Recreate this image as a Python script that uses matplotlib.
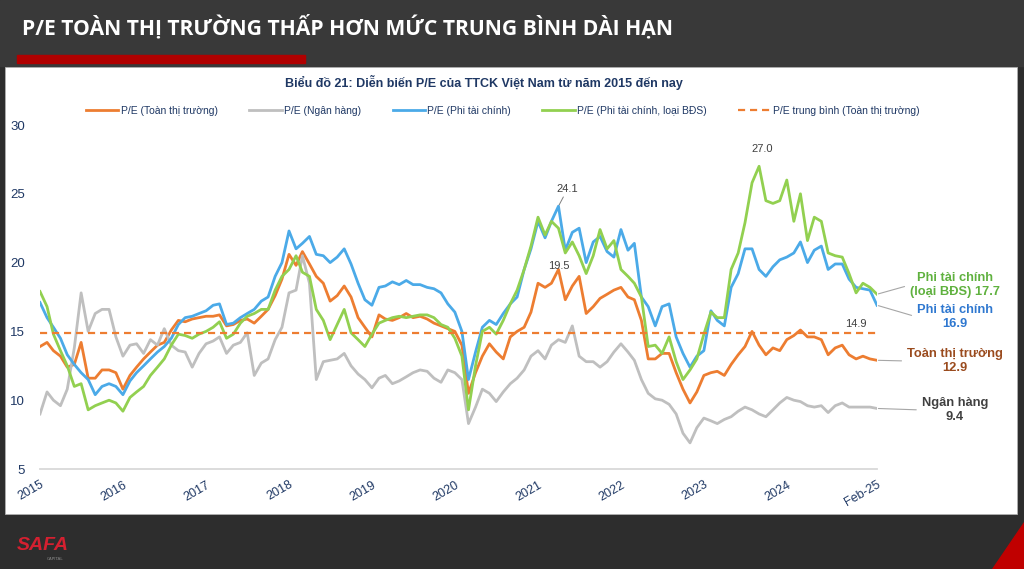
import numpy as np
import pandas as pd
import matplotlib
matplotlib.use('Agg')
import matplotlib.pyplot as plt
from matplotlib.patches import Rectangle, Polygon

W, H = 1024, 569

# monthly P/E readings, Jan 2015 .. Feb 2025
months = pd.date_range('2015-01-01', periods=122, freq='MS')

pe_market = [
    13.9, 14.2, 13.6, 13.2, 12.4, 12.6, 14.2, 11.6, 11.6, 12.2,
    12.2, 12.0, 10.8, 11.8, 12.4, 13.0, 13.5, 14.0, 14.2, 15.1,
    15.8, 15.7, 15.9, 16.0, 16.1, 16.1, 16.2, 15.4, 15.5, 15.8,
    15.9, 15.6, 16.1, 16.6, 17.6, 18.8, 20.6, 19.8, 20.8, 19.9,
    19.0, 18.5, 17.2, 17.6, 18.3, 17.5, 16.0, 15.3, 14.6, 16.2,
    15.9, 15.8, 16.0, 16.3, 16.0, 16.1, 15.9, 15.6, 15.4, 15.2,
    15.0, 14.0, 10.5, 12.0, 13.2, 14.1, 13.5, 13.0, 14.6, 15.0,
    15.3, 16.4, 18.5, 18.2, 18.5, 19.5, 17.3, 18.3, 19.0, 16.3,
    16.8, 17.4, 17.7, 18.0, 18.2, 17.5, 17.3, 15.8, 13.0, 13.0,
    13.4, 13.4, 12.0, 10.8, 9.8, 10.6, 11.8, 12.0, 12.1, 11.8,
    12.6, 13.3, 13.9, 15.0, 14.0, 13.3, 13.8, 13.6, 14.4, 14.7,
    15.1, 14.6, 14.6, 14.4, 13.3, 13.8, 14.0, 13.3, 13.0, 13.2,
    13.0, 12.9,
]

pe_bank = [
    9.0, 10.6, 10.0, 9.6, 10.8, 13.8, 17.8, 15.0, 16.3, 16.6,
    16.6, 14.6, 13.2, 14.0, 14.1, 13.4, 14.4, 14.0, 15.2, 14.0,
    13.6, 13.5, 12.4, 13.4, 14.1, 14.3, 14.6, 13.4, 14.0, 14.2,
    14.9, 11.8, 12.7, 13.0, 14.4, 15.3, 17.8, 18.0, 20.5, 18.5,
    11.5, 12.8, 12.9, 13.0, 13.4, 12.5, 11.9, 11.5, 10.9, 11.6,
    11.8, 11.2, 11.4, 11.7, 12.0, 12.2, 12.1, 11.6, 11.3, 12.2,
    12.0, 11.5, 8.3, 9.5, 10.8, 10.5, 9.9, 10.6, 11.2, 11.6,
    12.2, 13.2, 13.6, 13.0, 14.0, 14.4, 14.2, 15.4, 13.2, 12.8,
    12.8, 12.4, 12.8, 13.5, 14.1, 13.5, 12.9, 11.5, 10.5, 10.1,
    10.0, 9.7, 9.0, 7.6, 6.9, 8.0, 8.7, 8.5, 8.3, 8.6,
    8.8, 9.2, 9.5, 9.3, 9.0, 8.8, 9.3, 9.8, 10.2, 10.0,
    9.9, 9.6, 9.5, 9.6, 9.1, 9.6, 9.8, 9.5, 9.5, 9.5,
    9.5, 9.4,
]

pe_nonfin = [
    17.1, 16.0, 15.3, 14.5, 13.3, 12.6, 12.0, 11.5, 10.4, 11.0,
    11.2, 11.0, 10.4, 11.4, 12.0, 12.5, 13.0, 13.5, 13.9, 14.5,
    15.5, 16.0, 16.1, 16.3, 16.5, 16.9, 17.0, 15.5, 15.6, 16.0,
    16.3, 16.6, 17.2, 17.5, 19.0, 20.0, 22.3, 21.0, 21.4, 21.9,
    20.6, 20.5, 20.0, 20.4, 21.0, 19.9, 18.5, 17.3, 16.9, 18.2,
    18.3, 18.6, 18.4, 18.7, 18.4, 18.4, 18.2, 18.1, 17.8, 17.0,
    16.4, 15.0, 11.5, 13.5, 15.3, 15.8, 15.5, 16.3, 17.0, 17.5,
    19.5, 21.0, 23.0, 21.8, 23.0, 24.1, 20.9, 22.2, 22.5, 20.0,
    21.5, 21.9, 20.8, 20.4, 22.4, 20.9, 21.4, 17.5, 16.8, 15.4,
    16.8, 17.0, 14.6, 13.4, 12.4, 13.2, 13.6, 16.5, 15.8, 15.4,
    18.2, 19.2, 21.0, 21.0, 19.5, 19.0, 19.7, 20.2, 20.4, 20.7,
    21.5, 20.0, 20.9, 21.2, 19.5, 19.9, 19.9, 18.8, 18.2, 18.1,
    18.0, 16.9,
]

pe_nonfin_ex_re = [
    17.9, 16.8, 14.8, 13.6, 12.5, 11.0, 11.2, 9.3, 9.6, 9.8,
    10.0, 9.8, 9.2, 10.2, 10.6, 11.0, 11.8, 12.4, 13.0, 14.0,
    14.8, 14.7, 14.5, 14.8, 15.0, 15.3, 15.7, 14.5, 14.8, 15.6,
    16.1, 16.3, 16.6, 16.6, 18.0, 19.0, 19.5, 20.5, 19.3, 19.0,
    16.6, 15.8, 14.4, 15.5, 16.6, 14.9, 14.4, 13.9, 14.8, 15.6,
    15.8, 16.0, 16.1, 16.0, 16.1, 16.2, 16.2, 16.0, 15.5, 15.3,
    14.5, 13.2, 9.3, 12.5, 15.0, 15.3, 14.8, 15.8, 17.0, 18.0,
    19.5, 21.2, 23.3, 22.0, 23.0, 22.5, 20.7, 21.5, 20.5, 19.2,
    20.5, 22.4, 21.0, 21.6, 19.5, 19.0, 18.5, 17.5, 13.9, 14.0,
    13.4, 14.6, 12.8, 11.5, 12.2, 13.0, 14.8, 16.4, 16.0, 16.0,
    19.5, 20.7, 22.9, 25.8, 27.0, 24.5, 24.3, 24.5, 26.0, 23.0,
    25.0, 21.6, 23.3, 23.0, 20.7, 20.5, 20.4, 19.2, 17.8, 18.5,
    18.2, 17.7,
]

pe_avg = 14.9

tick_dates = pd.to_datetime(['2015-01-01', '2016-01-01', '2017-01-01', '2018-01-01',
                             '2019-01-01', '2020-01-01', '2021-01-01', '2022-01-01',
                             '2023-01-01', '2024-01-01', '2025-02-01'])
tick_labels = ['2015', '2016', '2017', '2018', '2019', '2020', '2021', '2022',
               '2023', '2024', 'Feb-25']
y_ticks = [5, 10, 15, 20, 25, 30]

NAVY = '#1F3864'
C_MARKET = '#ED7D31'
C_BANK = '#BFBFBF'
C_NONFIN = '#4BAAE8'
C_EXRE = '#92D050'


def fx(px):
    return px / W


def fy(py):
    return 1 - py / H


fig = plt.figure(figsize=(W / 100, H / 100), dpi=100, facecolor='#2d2d2d')

# slide decoration
fig.add_artist(Rectangle((0, fy(66)), 1, 1 - fy(66), transform=fig.transFigure,
                         color='#393939', zorder=-3))
fig.add_artist(Rectangle((fx(17), fy(63)), fx(305) - fx(17), fy(55) - fy(63),
                         transform=fig.transFigure, color='#B00000', zorder=-2))
fig.add_artist(Rectangle((fx(5), fy(514)), fx(1017) - fx(5), fy(67) - fy(514),
                         transform=fig.transFigure, facecolor='white',
                         edgecolor='#b0b0b0', lw=0.6, zorder=-2))
fig.add_artist(Polygon([(fx(1024), fy(522)), (fx(1024), fy(569)), (fx(992), fy(569))],
                       closed=True, transform=fig.transFigure, color='#C00000', zorder=-2))
fig.text(fx(22), fy(27), 'P/E TOÀN THỊ TRƯỜNG THẤP HƠN MỨC TRUNG BÌNH DÀI HẠN',
         color='white', fontsize=15.2, fontweight='bold', family='Open Sans',
         ha='left', va='center')
fig.text(fx(17), fy(546), 'SAFA', color='#D42030', fontsize=14, fontweight='bold',
         style='italic', family='Liberation Sans', ha='left', va='center')
fig.text(fx(55), fy(559), 'CAPITAL', color='#8a8a8a', fontsize=3, ha='center', va='center')

fig.text(fx(484), fy(82), 'Biểu đồ 21: Diễn biến P/E của TTCK Việt Nam từ năm 2015 đến nay',
         color=NAVY, fontsize=9, fontweight='bold', family='Liberation Sans',
         ha='center', va='center')

ax = fig.add_axes([fx(40), fy(469), fx(877) - fx(40), fy(125) - fy(469)])
ax.set_facecolor('none')
ax.set_zorder(2)

lw = 2.0
l1, = ax.plot(months, pe_market, color=C_MARKET, lw=lw, label='P/E (Toàn thị trường)')
l2, = ax.plot(months, pe_bank, color=C_BANK, lw=lw, label='P/E (Ngân hàng)')
l3, = ax.plot(months, pe_nonfin, color=C_NONFIN, lw=lw, label='P/E (Phi tài chính)')
l4, = ax.plot(months, pe_nonfin_ex_re, color=C_EXRE, lw=lw,
              label='P/E (Phi tài chính, loại BĐS)')
l5, = ax.plot(months, [pe_avg] * len(months), color=C_MARKET, lw=1.6,
              linestyle=(0, (3.2, 2.2)), label='P/E trung bình (Toàn thị trường)')

ax.set_xlim(months[0], months[-1])
ax.set_ylim(5, 30)
ax.set_yticks(y_ticks)
ax.set_xticks(tick_dates)
ax.set_xticklabels(tick_labels, rotation=30, ha='right', va='top', rotation_mode='anchor')
ax.tick_params(axis='y', length=0, pad=11, labelcolor=NAVY, labelsize=9.5)
ax.tick_params(axis='x', length=0, pad=7, labelcolor=NAVY, labelsize=9)
for lab in ax.get_xticklabels() + ax.get_yticklabels():
    lab.set_family('Liberation Sans')
for side in ['left', 'right', 'top']:
    ax.spines[side].set_visible(False)
ax.spines['bottom'].set_color('#D9D9D9')
ax.spines['bottom'].set_linewidth(1.3)

leg = fig.legend([l1, l2, l3, l4, l5], [h.get_label() for h in [l1, l2, l3, l4, l5]],
                 loc='center', bbox_to_anchor=(fx(503), fy(111)), ncol=5, frameon=False,
                 handlelength=3.1, handletextpad=0.25, columnspacing=3.0,
                 prop={'family': 'Liberation Sans', 'size': 7.5})
for t in leg.get_texts():
    t.set_color(NAVY)

# peak labels
ann_style = dict(fontsize=8, color='#404040', family='Liberation Sans')
i_nf = int(np.argmax(pe_nonfin[:100]))
ax.annotate(f'{pe_nonfin[i_nf]:.1f}', xy=(months[i_nf], pe_nonfin[i_nf]),
            xytext=(9, 12), textcoords='offset pixels', ha='center', va='bottom',
            arrowprops=dict(arrowstyle='-', color='#7f7f7f', lw=0.7, shrinkA=0, shrinkB=1),
            **ann_style)
i_mk = 70 + int(np.argmax(pe_market[70:90]))
ax.annotate(f'{pe_market[i_mk]:.1f}', xy=(months[i_mk], pe_market[i_mk]),
            xytext=(0, -2), textcoords='offset pixels', ha='center', va='bottom', **ann_style)
i_ex = int(np.argmax(pe_nonfin_ex_re))
ax.annotate(f'{pe_nonfin_ex_re[i_ex]:.1f}', xy=(months[i_ex], pe_nonfin_ex_re[i_ex]),
            xytext=(3, 12), textcoords='offset pixels', ha='center', va='bottom', **ann_style)
ax.annotate(f'{pe_avg:.1f}', xy=(months[-4], pe_avg), xytext=(0, 4),
            textcoords='offset pixels', ha='center', va='bottom', **ann_style)

# end-of-series labels
end_labels = [
    (pe_nonfin_ex_re, f'Phi tài chính\n(loại BĐS) {pe_nonfin_ex_re[-1]:.1f}', '#5FB13E', 955, 285),
    (pe_nonfin, f'Phi tài chính\n{pe_nonfin[-1]:.1f}', '#2F78D0', 955, 317),
    (pe_market, f'Toàn thị trường\n{pe_market[-1]:.1f}', '#9A4B1E', 955, 361),
    (pe_bank, f'Ngân hàng\n{pe_bank[-1]:.1f}', '#404040', 955, 410),
]
for series, text, col, tx, ty in end_labels:
    ax.annotate(text, xy=(months[-1], series[-1]), xytext=(tx, H - ty),
                textcoords='figure pixels', ha='center', va='center', color=col,
                fontsize=9.3, fontweight='bold', family='Liberation Sans',
                linespacing=1.15, annotation_clip=False,
                arrowprops=dict(arrowstyle='-', color='#a6a6a6', lw=0.8,
                                shrinkA=2, shrinkB=1, relpos=(0, 0.5)))

fig.savefig('out.png', dpi=100, facecolor=fig.get_facecolor())
